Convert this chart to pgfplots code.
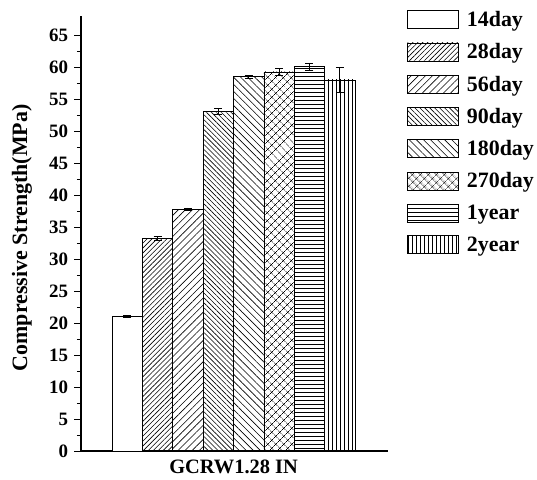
\documentclass[border=0pt]{standalone}
\usepackage{pgfplots}
\pgfplotsset{compat=1.18}
\usetikzlibrary{patterns.meta}
\usepackage{fontspec}
\setmainfont{Liberation Serif}
\begin{document}
\begin{tikzpicture}
\pgfplotsset{
  mybar/.style={ybar, bar width=1, bar shift=0pt, draw=black, line width=0.7bp,
    error bars/.cd, y dir=both, y explicit,
    error bar style={line width=0.7bp, black},
    error mark options={black, rotate=90, mark size=4bp, line width=0.7bp},
    /pgfplots/.cd,
    legend image code/.code={\draw[##1, line width=0.7bp] (0bp,-9bp) rectangle (51bp,9bp);}},
}
\begin{axis}[
  scale only axis, width=307bp, height=435bp,
  xmin=-1.52, xmax=8.586, ymin=0, ymax=68,
  axis x line*=bottom, axis y line*=left,
  axis line style={line width=1.3bp, black},
  xtick=\empty,
  ytick={0,5,...,65}, minor y tick num=1,
  tick align=outside,
  major tick length=6.5bp, minor tick length=4bp,
  every tick/.style={black, line width=1bp},
  /pgf/number format/assume math mode=true,
  yticklabel style={font=\bfseries\fontsize{19}{22}\selectfont, xshift=-3bp},
  ylabel={Compressive Strength(MPa)},
  ylabel style={at={(axis description cs:-0.192,0.49)}, rotate=0, anchor=center, font=\bfseries\fontsize{22}{26}\selectfont},
  xlabel={GCRW1.28 IN},
  xlabel style={at={(axis description cs:0.497,0)}, anchor=center, yshift=-16bp, font=\bfseries\fontsize{20.5}{24}\selectfont},
  legend style={at={(axis description cs:1.062,1.016)}, anchor=north west, draw=none,
    font=\bfseries\fontsize{22}{26}\selectfont, row sep=11.6bp, inner sep=0pt,
    nodes={inner sep=2bp}, /tikz/every odd column/.style={column sep=6bp}},
  legend cell align=left,
]
\addplot[mybar, fill=white] coordinates {(0,21.0) +- (0,0.15)};
\addplot[mybar, pattern={Lines[angle=45,distance=3.5bp,line width=0.6bp]}] coordinates {(1,33.2) +- (0,0.3)};
\addplot[mybar, pattern={Lines[angle=45,distance=5bp,line width=0.6bp]}] coordinates {(2,37.8) +- (0,0.2)};
\addplot[mybar, pattern={Lines[angle=-45,distance=3.5bp,line width=0.6bp]}] coordinates {(3,53.1) +- (0,0.44)};
\addplot[mybar, pattern={Lines[angle=-45,distance=5bp,line width=0.6bp]}] coordinates {(4,58.5) +- (0,0.2)};
\addplot[mybar, pattern={Hatch[angle=45,distance=6bp,line width=0.6bp]}] coordinates {(5,59.25) +- (0,0.57)};
\addplot[mybar, pattern={Lines[angle=0,distance=4bp,line width=0.6bp]}] coordinates {(6,60.1) +- (0,0.57)};
\addplot[mybar, pattern={Lines[angle=90,distance=4bp,line width=0.6bp]}] coordinates {(7,58.0) +- (0,1.95)};
\legend{14day,28day,56day,90day,180day,270day,1year,2year}
\end{axis}
\pgfresetboundingbox
\path[use as bounding box] (-81bp,-29bp) rectangle (456bp,451bp);
\end{tikzpicture}
\end{document}
